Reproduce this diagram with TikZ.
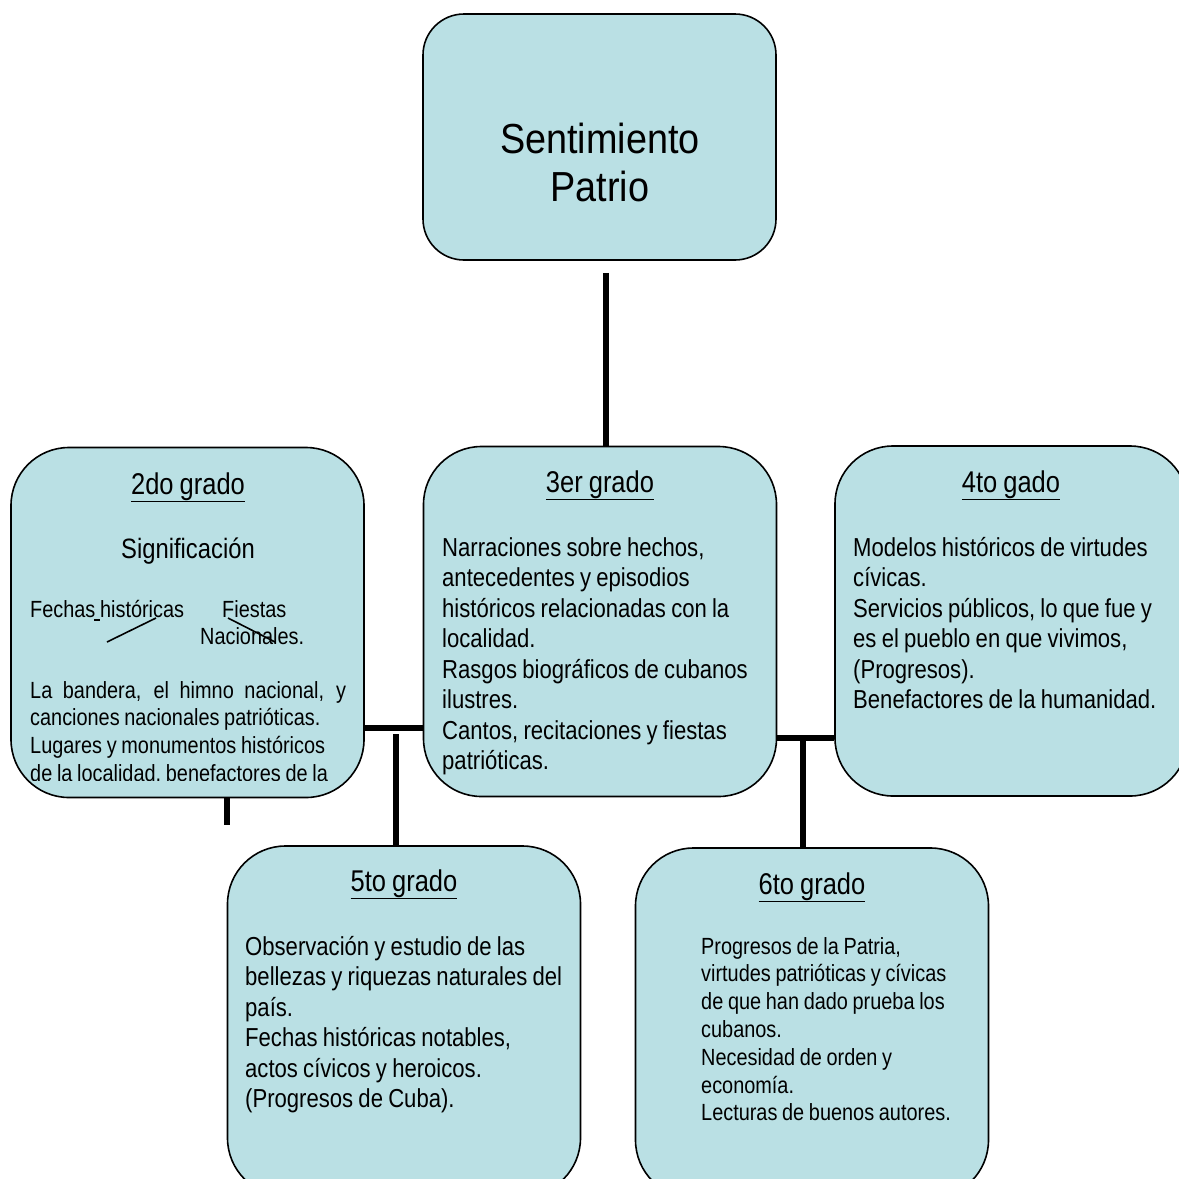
\documentclass[tikz,border=0pt]{standalone}
\usepackage{fontspec}
\setmainfont[FakeStretch=0.85, WordSpace=0.85]{Liberation Sans}
\newfontfamily\titlefont[FakeStretch=0.9, WordSpace=0.9]{Liberation Sans}

\definecolor{boxblue}{RGB}{186,224,228}

\tikzset{
  grado/.style={draw, line width=1.6pt, fill=boxblue, rounded corners=58pt,
    minimum width=353pt, minimum height=350pt, inner sep=0pt},
  conn/.style={line width=6pt},
  strokeline/.style={line width=1.6pt},
  every node/.style={execute at begin node={\spaceskip=0pt\xspaceskip=0pt}},
  head/.style={anchor=base, inner sep=0pt, font=\fontsize{30}{34}\selectfont},
  lbl/.style={anchor=base west, inner sep=0pt, font=\fontsize{23.4}{27.8}\selectfont},
  body/.style={anchor=base west, inner sep=0pt, text width=345pt,
    font=\fontsize{26}{30.5}\selectfont},
  smallbody/.style={body, font=\fontsize{23.4}{27.8}\selectfont},
}

\begin{document}
\begin{tikzpicture}[x=1pt,y=-1pt]

  \clip (0,0) rectangle (1179,1179);

  % boxes
  \node[grado, rounded corners=41pt, minimum height=246pt] (top) at (599.5,137) {};
  \node[grado] (g2) at (187.5,622.5) {};
  \node[grado] (g3) at (600,621.5) {};
  \node[grado] (g4) at (1011.5,621) {};
  \node[grado] (g5) at (404,1021) {};
  \node[grado] (g6) at (812,1023) {};

  % connectors
  \coordinate (jt) at (606,0);
  \coordinate (jl) at (396,728);
  \coordinate (jr) at (803,738);

  \draw[conn] (top.south -| jt) ++(0,12) -- (g3.north -| jt);
  \draw[conn] (jl -| g2.east) -- (jl -| g3.west);
  \draw[conn] ([yshift=-6pt]jl) -- (g5.north -| jl);
  \draw[conn] (jr -| g3.east) -- (jr -| g4.west);
  \draw[conn] (jr) -- (g6.north -| jr);
  \draw[conn] (g2.south -| 227,0) -- ++(0,27);

  \node[anchor=base, inner sep=0pt, text width=340pt, align=center,
    font=\titlefont\fontsize{42}{48}\selectfont] (ttl) at (600,153)
    {Sentimiento\\Patrio};

  % headings
  \node[head] (h2) at (188,494) {\underline{2do grado}};
  \node[head] (h3) at (600,492) {\underline{3er grado}};
  \node[head] (h4) at (1011,492) {\underline{4to gado}};
  \node[head] (h5) at (404,891) {\underline{5to grado}};
  \node[head] (h6) at (812,894) {\underline{6to grado}};

  % 2do grado
  \node[head, font=\fontsize{28}{32}\selectfont] (sig) at (188,558) {Significación};
  \node[lbl] (fh) at (30,617) {Fechas históricas};
  \node[lbl] (fi) at (222,617) {Fiestas};
  \node[lbl] (na) at (200,644) {Nacionales.};
  \draw[strokeline] (94,620) -- (100,620);
  \draw[strokeline] (156,618) -- (107,642);
  \draw[strokeline] (228,618) -- (275,642);

  \begin{scope}
    \clip (11,447) rectangle (364,780);
    \node[smallbody] (b2) at (30,698)
      {\makebox[316pt][s]{La bandera, el himno nacional, y}\\
       canciones nacionales patrióticas.\\
       Lugares y monumentos históricos\\
       de la localidad, benefactores de la};
  \end{scope}

  \node[body] (b3) at (442,556)
    {Narraciones sobre hechos,\\antecedentes y episodios\\
     históricos relacionadas con la\\localidad.\\
     Rasgos biográficos de cubanos\\ilustres.\\
     Cantos, recitaciones y fiestas\\patrióticas.};

  \node[body] (b4) at (853,556)
    {Modelos históricos de virtudes\\cívicas.\\
     Servicios públicos, lo que fue y\\es el pueblo en que vivimos,\\
     (Progresos).\\Benefactores de la humanidad.};

  \node[body] (b5) at (245,955)
    {Observación y estudio de las\\bellezas y riquezas naturales del\\país.\\
     Fechas históricas notables,\\actos cívicos y heroicos.\\
     (Progresos de Cuba).};

  \node[smallbody] (b6) at (701,954)
    {Progresos de la Patria,\\virtudes patrióticas y cívicas\\
     de que han dado prueba los\\cubanos.\\
     Necesidad de orden y\\economía.\\
     Lecturas de buenos autores.};

\end{tikzpicture}
\end{document}
